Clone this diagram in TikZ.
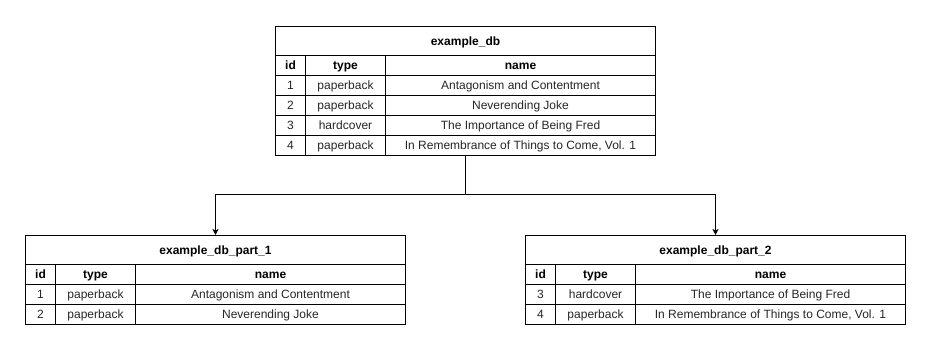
\documentclass[tikz,border=0pt]{standalone}
\usepackage{fontspec}
\setmainfont{Liberation Sans}
\usetikzlibrary{arrows.meta}
\tikzset{
  cell/.style={draw=black, line width=1pt, inner sep=0pt, anchor=north west,
    minimum height=20pt, text height=8.6pt, text depth=0pt,
    font=\fontsize{12}{14}\selectfont, text=black!85},
  headcell/.style={cell, font=\fontsize{12}{14}\selectfont\bfseries, text=black},
  titlecell/.style={headcell, minimum width=380pt, minimum height=29pt},
  idcol/.style={minimum width=30pt},
  typecol/.style={minimum width=80pt},
  namecol/.style={minimum width=270pt},
  conn/.style={draw=black, line width=1pt, -{Stealth[length=6pt,width=6pt,inset=1.5pt]}},
}
\begin{document}
\begin{tikzpicture}[x=1pt,y=-1pt]
\useasboundingbox (0,0) rectangle (931,351);
\fill[white] (0,0) rectangle (931,351);

% ---------- top table ----------
\node[titlecell] (db) at (275,26) {example\_db};
\node[headcell,idcol]   (db-h-id)   at (275,55) {id};
\node[headcell,typecol] (db-h-type) at (305,55) {type};
\node[headcell,namecol] (db-h-name) at (385,55) {name};
\foreach \i/\t/\n [count=\k] in {1/paperback/Antagonism and Contentment,
  2/paperback/Neverending Joke,
  3/hardcover/The Importance of Being Fred,
  4/paperback/{In Remembrance of Things to Come, Vol. 1}} {
  \node[cell,idcol]   (db-r\k-id)   at (275,55+20*\k) {\i};
  \node[cell,typecol] (db-r\k-type) at (305,55+20*\k) {\t};
  \node[cell,namecol] (db-r\k-name) at (385,55+20*\k) {\n};
}

% ---------- bottom left table ----------
\node[titlecell] (p1) at (25,235) {example\_db\_part\_1};
\node[headcell,idcol]   (p1-h-id)   at (25,264) {id};
\node[headcell,typecol] (p1-h-type) at (55,264) {type};
\node[headcell,namecol] (p1-h-name) at (135,264) {name};
\foreach \i/\t/\n [count=\k] in {1/paperback/Antagonism and Contentment,
  2/paperback/Neverending Joke} {
  \node[cell,idcol]   (p1-r\k-id)   at (25,264+20*\k) {\i};
  \node[cell,typecol] (p1-r\k-type) at (55,264+20*\k) {\t};
  \node[cell,namecol] (p1-r\k-name) at (135,264+20*\k) {\n};
}

% ---------- bottom right table ----------
\node[titlecell] (p2) at (525,235) {example\_db\_part\_2};
\node[headcell,idcol]   (p2-h-id)   at (525,264) {id};
\node[headcell,typecol] (p2-h-type) at (555,264) {type};
\node[headcell,namecol] (p2-h-name) at (635,264) {name};
\foreach \i/\t/\n [count=\k] in {3/hardcover/The Importance of Being Fred,
  4/paperback/{In Remembrance of Things to Come, Vol. 1}} {
  \node[cell,idcol]   (p2-r\k-id)   at (525,264+20*\k) {\i};
  \node[cell,typecol] (p2-r\k-type) at (555,264+20*\k) {\t};
  \node[cell,namecol] (p2-r\k-name) at (635,264+20*\k) {\n};
}

% ---------- connectors ----------
\coordinate (dbbot) at (465,155);
\coordinate (split) at (465,194);
\draw[conn] (dbbot) -- (split) -| (p1.north);
\draw[conn] (dbbot) -- (split) -| (p2.north);
\end{tikzpicture}
\end{document}
